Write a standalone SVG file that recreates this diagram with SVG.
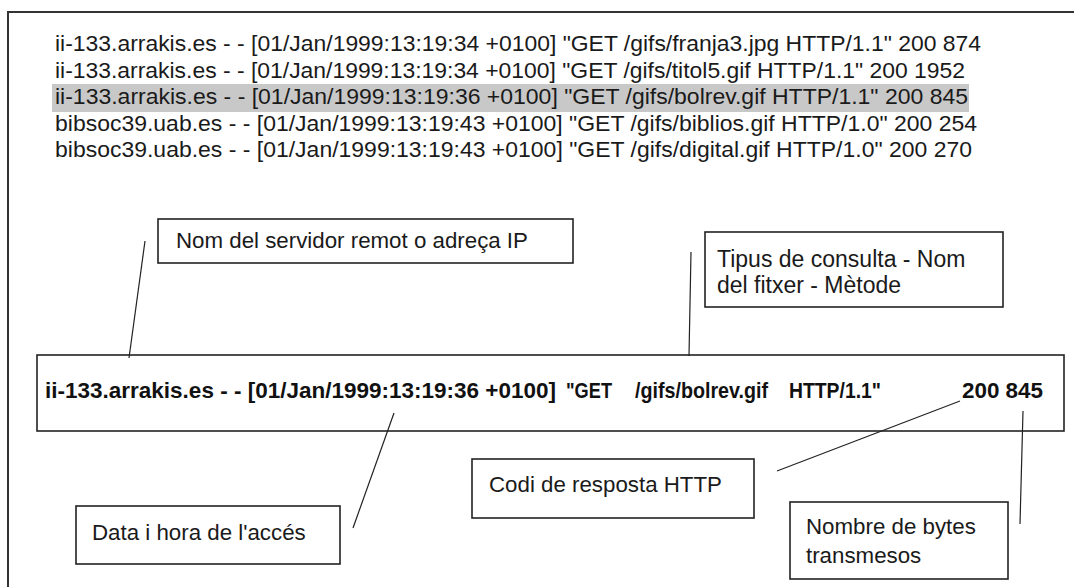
<svg xmlns="http://www.w3.org/2000/svg" width="1074" height="587" viewBox="0 0 1074 587">
<style>
  .log { font-family: "Liberation Sans", Arial, sans-serif; font-size: 22px; fill: #1a1a1a; }
  .main { font-family: "Liberation Sans", Arial, sans-serif; font-size: 22px; font-weight: bold; fill: #111; }
  .lbl { font-family: "Liberation Sans", Arial, sans-serif; font-size: 22.3px; fill: #1a1a1a; }
  .box { fill: #fff; stroke: #222; stroke-width: 1.6; }
  .frame { fill: none; stroke: #333; stroke-width: 2; }
  .conn { stroke: #222; stroke-width: 1.2; fill: none; }
</style>
<rect width="1074" height="587" fill="#fff"/>
<path class="frame" d="M8,587 V12 H1074"/>

<g id="log">
  <rect x="52" y="84" width="917" height="28" fill="#c8c8c8"/>
  <text class="log" x="55" y="51" textLength="926" lengthAdjust="spacingAndGlyphs">ii-133.arrakis.es - - [01/Jan/1999:13:19:34 +0100] "GET /gifs/franja3.jpg HTTP/1.1" 200 874</text>
  <text class="log" x="55" y="77.5" textLength="910" lengthAdjust="spacingAndGlyphs">ii-133.arrakis.es - - [01/Jan/1999:13:19:34 +0100] "GET /gifs/titol5.gif HTTP/1.1" 200 1952</text>
  <text class="log" x="55" y="104" textLength="913" lengthAdjust="spacingAndGlyphs">ii-133.arrakis.es - - [01/Jan/1999:13:19:36 +0100] "GET /gifs/bolrev.gif HTTP/1.1" 200 845</text>
  <text class="log" x="55" y="130.5" textLength="922" lengthAdjust="spacingAndGlyphs">bibsoc39.uab.es - - [01/Jan/1999:13:19:43 +0100] "GET /gifs/biblios.gif HTTP/1.0" 200 254</text>
  <text class="log" x="55" y="157" textLength="917" lengthAdjust="spacingAndGlyphs">bibsoc39.uab.es - - [01/Jan/1999:13:19:43 +0100] "GET /gifs/digital.gif HTTP/1.0" 200 270</text>
</g>

<g id="connectors">
  <line class="conn" x1="145" y1="241" x2="129" y2="358"/>
  <line class="conn" x1="691" y1="252" x2="689" y2="356"/>
  <line class="conn" x1="394" y1="413" x2="353" y2="528"/>
  <line class="conn" x1="960" y1="401" x2="777" y2="471"/>
  <line class="conn" x1="1023" y1="411" x2="1020" y2="524"/>
</g>

<g id="main-entry">
  <rect class="box" x="37" y="355" width="1027" height="76" style="fill:none"/>
  <text class="main" x="45" y="398" textLength="511" lengthAdjust="spacingAndGlyphs">ii-133.arrakis.es - - [01/Jan/1999:13:19:36 +0100]</text>
  <text class="main" x="566" y="398" textLength="46" lengthAdjust="spacingAndGlyphs">"GET</text>
  <text class="main" x="635" y="398" textLength="133" lengthAdjust="spacingAndGlyphs">/gifs/bolrev.gif</text>
  <text class="main" x="789" y="398" textLength="92" lengthAdjust="spacingAndGlyphs">HTTP/1.1"</text>
  <text class="main" x="962" y="398" textLength="81" lengthAdjust="spacingAndGlyphs">200 845</text>
</g>

<g id="label-servidor">
  <rect class="box" x="158" y="219" width="415" height="44"/>
  <text class="lbl" x="176" y="248">Nom del servidor remot o adreça IP</text>
</g>

<g id="label-consulta">
  <rect class="box" x="705" y="232" width="298" height="75"/>
  <text class="lbl" x="717" y="267" style="font-size:23px">Tipus de consulta - Nom</text>
  <text class="lbl" x="717" y="293" style="font-size:23px">del fitxer - Mètode</text>
</g>

<g id="label-codi">
  <rect class="box" x="472" y="459" width="282" height="59"/>
  <text class="lbl" x="489" y="492">Codi de resposta HTTP</text>
</g>

<g id="label-data">
  <rect class="box" x="76" y="506" width="264" height="58"/>
  <text class="lbl" x="92" y="540">Data i hora de l'accés</text>
</g>

<g id="label-bytes">
  <rect class="box" x="790" y="502" width="218" height="77"/>
  <text class="lbl" x="806" y="534">Nombre de bytes</text>
  <text class="lbl" x="806" y="563">transmesos</text>
</g>
</svg>
